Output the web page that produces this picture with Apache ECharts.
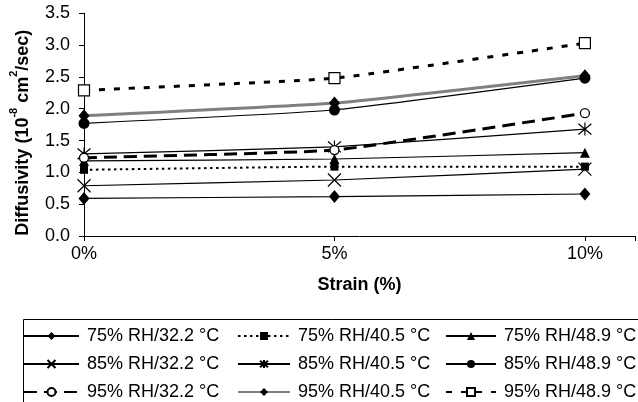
<!DOCTYPE html>
<html>
<head>
<meta charset="utf-8">
<script src="https://cdn.jsdelivr.net/npm/echarts@6/dist/echarts.min.js"></script>
<style>html,body{margin:0;padding:0;background:#fff}#c{width:638px;height:402px}</style>
</head>
<body>
<div id="c"></div>
<script>
// Data
var strains = [0, 5, 10];
var yTicks = [0, 0.5, 1, 1.5, 2, 2.5, 3, 3.5];
var names = ['75% RH/32.2 °C','75% RH/40.5 °C','75% RH/48.9 °C',
             '85% RH/32.2 °C','85% RH/40.5 °C','85% RH/48.9 °C',
             '95% RH/32.2 °C','95% RH/40.5 °C','95% RH/48.9 °C'];
var rh75_322 = [0.59, 0.62, 0.66];
var rh75_405 = [1.04, 1.09, 1.09];
var rh75_489 = [1.18, 1.21, 1.31];
var rh85_322 = [0.79, 0.88, 1.05];
var rh85_405 = [1.29, 1.40, 1.68];
var rh85_489 = [1.77, 1.98, 2.48];
var rh95_322 = [1.23, 1.35, 1.93];
var rh95_405 = [1.89, 2.09, 2.52];
var rh95_489 = [2.29, 2.48, 3.03];

var FONT = 'Liberation Sans, Arial, sans-serif';
function pts(v){ return strains.map(function(s,i){ return [s, v[i]]; }); }

var X_PATH = 'path://M0,0L10,10M10,0L0,10';
var AST_PATH = 'path://M0,0L10,10M10,0L0,10M5,-1L5,11';

function mk(name, vals, o){
  return {
    name: name, type: 'line', data: pts(vals), smooth: 0.12,
    symbol: o.symbol, symbolSize: o.size,
    lineStyle: {color: o.lc || '#000', width: o.lw || 1.2, type: o.dash || 'solid'},
    itemStyle: {color: o.fill || '#000', borderColor: '#000', borderWidth: o.bw || 0},
    emphasis: {disabled: true}, animation: false
  };
}

var series = [
  mk(names[0], rh75_322, {symbol:'diamond', size:[11,13]}),
  mk(names[1], rh75_405, {symbol:'rect', size:8, lw:2, dash:[2.5,3.5]}),
  mk(names[2], rh75_489, {symbol:'triangle', size:10}),
  mk(names[3], rh85_322, {symbol:X_PATH, size:13, fill:'none', bw:1.2}),
  mk(names[4], rh85_405, {symbol:AST_PATH, size:13, fill:'none', bw:1.2}),
  mk(names[5], rh85_489, {symbol:'circle', size:11}),
  mk(names[6], rh95_322, {symbol:'circle', size:9, fill:'#fff', bw:1.3, lw:3, dash:[13,7]}),
  mk(names[7], rh95_405, {symbol:'diamond', size:[11,13], lc:'#808080', lw:3}),
  mk(names[8], rh95_489, {symbol:'rect', size:11, fill:'#fff', bw:1.2, lw:3, dash:[6,9]})
];

function legendCol(left, ids, w){
  return {
    orient: 'vertical', left: left, top: 326, padding: 0,
    itemWidth: w, itemHeight: 10, itemGap: 8,
    data: ids.map(function(i){ return names[i]; }),
    textStyle: {fontFamily: FONT, fontSize: 18, color: '#000', lineHeight: 20, padding:[0,0,0,3]},
    selectedMode: false
  };
}

var option = {
  backgroundColor: '#fff',
  animation: false,
  textStyle: {fontFamily: FONT},
  grid: {left: 83, top: 13.3, bottom: 166, right: -4, containLabel: false},
  xAxis: {
    type: 'value', min: 0, max: 11, interval: 5,
    name: 'Strain (%)', nameLocation: 'middle', nameGap: 40,
    nameTextStyle: {fontFamily: FONT, fontSize: 18, fontWeight: 'bold', color: '#000'},
    axisLine: {lineStyle: {color: '#000', width: 1}},
    axisTick: {show: true, length: 5, lineStyle: {color: '#000'}},
    splitLine: {show: false},
    axisLabel: {fontFamily: FONT, fontSize: 18, color: '#000', margin: 9,
      formatter: function(v){ return strains.indexOf(v) >= 0 ? v + '%' : ''; }}
  },
  yAxis: {
    type: 'value', min: yTicks[0], max: yTicks[yTicks.length-1], interval: 0.5,
    name: '{a|Diffusivity (10}{s|-8}{a| cm}{s|2}{a|/sec)}',
    nameLocation: 'middle', nameGap: 52, nameRotate: 90,
    nameTextStyle: {
      padding: [0, 16, 0, 0],
      rich: {
        a: {fontFamily: FONT, fontSize: 18, fontWeight: 'bold', color: '#000', lineHeight: 24, verticalAlign: 'bottom'},
        s: {fontFamily: FONT, fontSize: 11, fontWeight: 'bold', color: '#000', lineHeight: 24, verticalAlign: 'top'}
      }
    },
    axisLine: {show: true, lineStyle: {color: '#000', width: 1}},
    axisTick: {show: true, length: 5, lineStyle: {color: '#000'}},
    splitLine: {show: false},
    axisLabel: {fontFamily: FONT, fontSize: 18, color: '#000', margin: 14,
      formatter: function(v){ return v.toFixed(1); }}
  },
  legend: [
    legendCol(23, [0,3,6], 55),
    legendCol(237, [1,4,7], 52),
    legendCol(445, [2,5,8], 50)
  ],
  graphic: [{
    type: 'rect', left: 21, top: 317, silent: true,
    shape: {width: 660, height: 120},
    style: {fill: 'none', stroke: '#000', lineWidth: 1}
  }],
  series: series
};

var chart = echarts.init(document.getElementById('c'), null, {renderer: 'canvas'});
chart.setOption(option);
</script>
</body>
</html>
